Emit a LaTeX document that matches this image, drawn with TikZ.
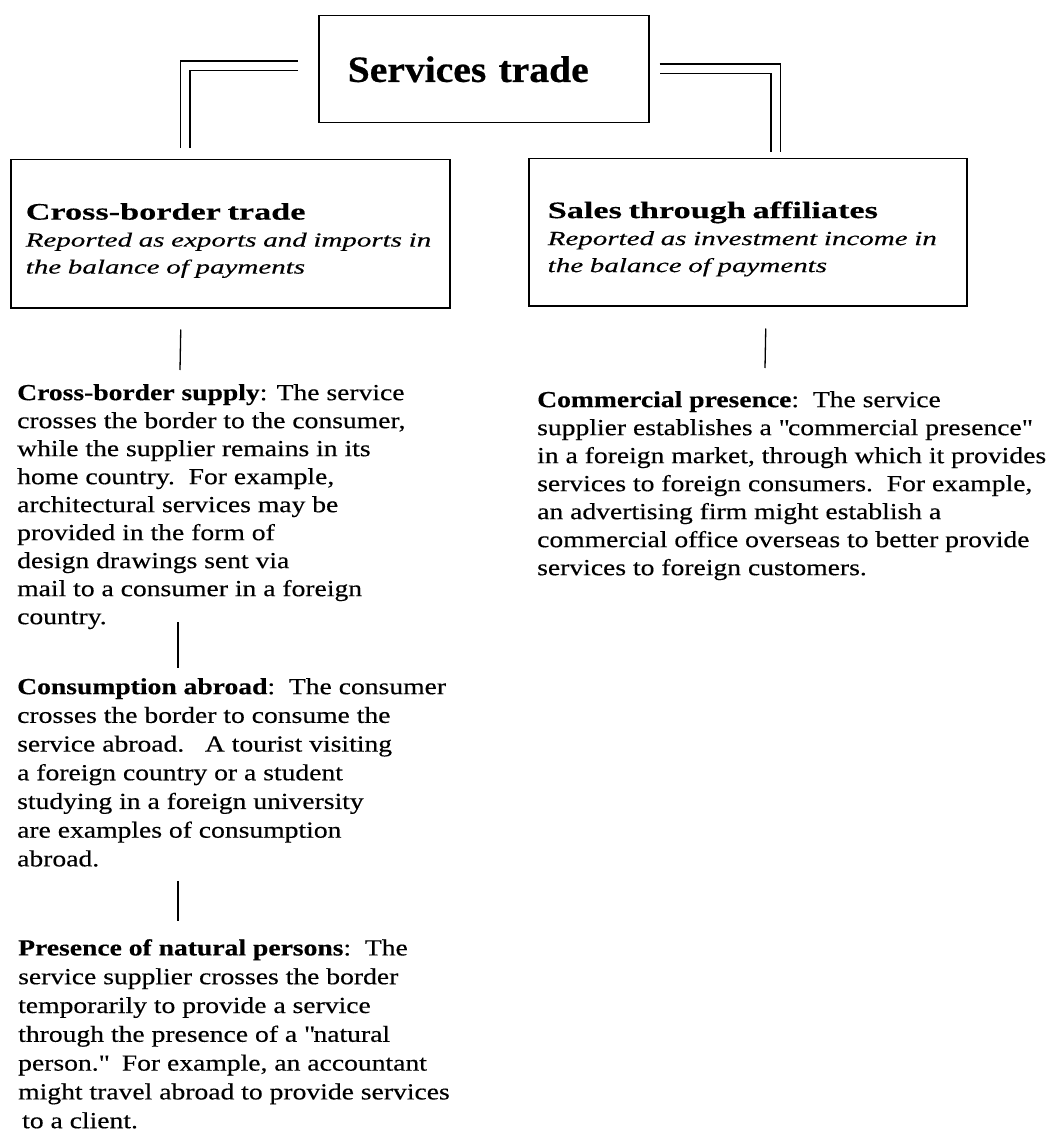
\documentclass[tikz,border=0pt]{standalone}
\usepackage{fontspec}
\setmainfont{Liberation Serif}[FakeStretch=1.2,FakeBold=0.4]
\newfontfamily\notefont{Liberation Serif}[FakeStretch=1.45,FakeBold=0.3]
\newfontfamily\titlefont{Liberation Serif}[FakeStretch=1.07,FakeBold=0.6]
\usepackage{tikz}
\tikzset{%
    mainbox/.style={draw, line width=1.5pt, anchor=north west},
    modebox/.style={mainbox, inner xsep=#1, inner ysep=0pt, align=left,
        font=\fontsize{20}{27}\notefont\itshape},
    para/.style={anchor=north west, inner sep=0pt, align=left,
        font=\fontsize{23}{#1}\selectfont},
    twin/.style={double, double distance=8pt, line width=1.3pt},
    link/.style={line width=1.3pt}
}
\newcommand{\boxhead}[1]{\rule{0pt}{30pt}{\fontsize{23.6}{26}\selectfont\bfseries\upshape #1}}
\newcommand{\qt}{\textquotedbl}

\begin{document}
\begin{tikzpicture}[x=1pt,y=-1pt]
    \useasboundingbox (0,0) rectangle (1047,1134);
    \node[mainbox, minimum width=330pt, minimum height=107pt, inner xsep=29pt,
        text width=272pt, align=left, font=\fontsize{37}{37}\titlefont\bfseries]
        (trade) at (318,15) {Services trade};
    \node[modebox=15pt, minimum width=439pt, minimum height=148pt, text width=409pt]
        (cross) at (10,159) {\boxhead{Cross-border trade}\\
        Reported as exports and imports in\\ the balance of payments};
    \node[modebox=19pt, minimum width=438pt, minimum height=147pt, text width=400pt]
        (sales) at (528,158) {\boxhead{Sales through affiliates}\\
        Reported as investment income in\\ the balance of payments};

    \node[para=28] (supply) at (17,384) {\textbf{Cross-border supply}: The service\\
        crosses the border to the consumer,\\ while the supplier remains in its\\
        home country.\ \ For example,\\ architectural services may be\\
        provided in the form of\\ design drawings sent via\\
        mail to a consumer in a foreign\\ country.};
    \node[para=28.7] (abroad) at (17,678) {\textbf{Consumption abroad}:\ \ The consumer\\
        crosses the border to consume the\\ service abroad.\ \ \ A tourist visiting\\
        a foreign country or a student\\ studying in a foreign university\\
        are examples of consumption\\ abroad.};
    \node[para=28.8] (persons) at (18,939) {\textbf{Presence of natural persons}:\ \ The\\
        service supplier crosses the border\\ temporarily to provide a service\\
        through the presence of a \qt natural\\ person.\qt\ \ For example, an accountant\\
        might travel abroad to provide services\\ \hspace{4pt}to a client.};
    \node[para=28] (commercial) at (537,391) {\textbf{Commercial presence}:\ \ The service\\
        supplier establishes a \qt commercial presence\qt\\
        in a foreign market, through which it provides\\
        services to foreign consumers.\ \ For example,\\
        an advertising firm might establish a\\
        commercial office overseas to better provide\\
        services to foreign customers.};

    \draw[twin] ([xshift=-20pt,yshift=3.5pt]trade.west) -| ([xshift=-45pt,yshift=11pt]cross.north);
    \draw[twin] ([xshift=10pt,yshift=0.5pt]trade.east) -| ([xshift=28pt,yshift=6pt]sales.north);

    \draw[link] ([xshift=-49.5pt,yshift=-21pt]cross.south) -- ([xshift=163pt,yshift=14pt]supply.north west);
    \draw[link] ([xshift=161pt,yshift=7pt]supply.south west) -- ([xshift=161pt,yshift=10pt]abroad.north west);
    \draw[link] ([xshift=161pt,yshift=-14pt]abroad.south west) -- ([xshift=160pt,yshift=18pt]persons.north west);
    \draw[link] ([xshift=18pt,yshift=-22pt]sales.south) -- ([xshift=228pt,yshift=23pt]commercial.north west);
\end{tikzpicture}
\end{document}
